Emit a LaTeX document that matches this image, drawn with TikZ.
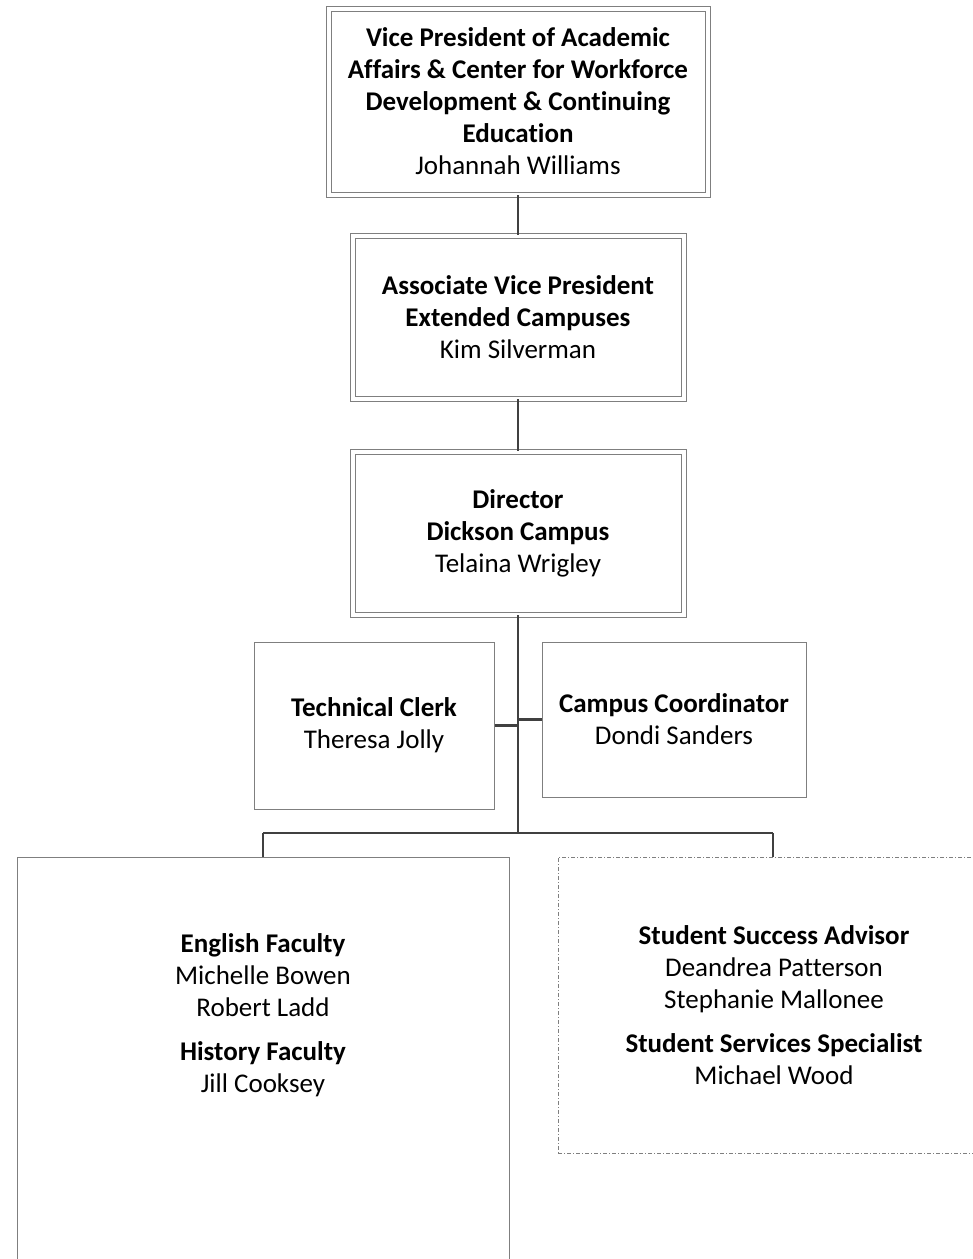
\documentclass[tikz,border=0pt]{standalone}
\usepackage{fontspec}
\setmainfont{Carlito}[Ligatures={CommonOff}]
\usepackage{tikz}
\usetikzlibrary{positioning}
\definecolor{orgline}{HTML}{404040}
\definecolor{orgedge}{HTML}{7F7F7F}

\begin{document}
\begin{tikzpicture}[
  x=1pt, y=-1pt,
  every node/.style={font=\fontsize{27}{32}\selectfont, align=center, inner sep=0pt},
  lead/.style={rectangle, draw=orgedge, line width=1pt, double=white,
               double distance=4pt},
  staff/.style={rectangle, draw=orgedge, line width=1pt},
  pool/.style={rectangle, draw=orgedge, line width=0.9pt,
               dash pattern=on 4pt off 2pt on 1pt off 2pt},
  link/.style={draw=orgline, line width=2.5pt},
]
  \useasboundingbox (0,0) rectangle (973,1259);
  \clip (0,0) rectangle (973,1259);

  \node[lead, minimum width=379pt, minimum height=186pt] (vpaa) at (518,101.5)
    {\textbf{Vice President of Academic}\\ \textbf{Affairs \& Center for Workforce}\\
     \textbf{Development \& Continuing}\\ \textbf{Education}\\ Johannah Williams};
  \node[lead, minimum width=331pt, minimum height=163pt] (avp) at (518,317)
    {\textbf{Associate Vice President}\\ \textbf{Extended Campuses}\\ Kim Silverman};
  \node[lead, minimum width=331pt, minimum height=163pt] (dir) at (518,533)
    {\textbf{Director}\\ \textbf{Dickson Campus}\\ Telaina Wrigley};

  \node[staff, minimum width=240pt, minimum height=167pt] (clerk) at (374,725.5)
    {\textbf{Technical Clerk}\\ Theresa Jolly};
  \node[staff, minimum width=264pt, minimum height=155pt] (coord) at (674,719.5)
    {\textbf{Campus Coordinator}\\ Dondi Sanders};

  \node[staff, minimum width=492pt, minimum height=408pt] (faculty) at (263,1061) {};
  \node (facultytext) at (263,1015)
    {\textbf{English Faculty}\\ Michelle Bowen\\ Robert Ladd\\[12pt]
     \textbf{History Faculty}\\ Jill Cooksey};
  \node[pool, minimum width=432pt, minimum height=296pt] (success) at (774,1005)
    {\textbf{Student Success Advisor}\\ Deandrea Patterson\\ Stephanie Mallonee\\[12pt]
     \textbf{Student Services Specialist}\\ Michael Wood};

  % spine and bus
  \coordinate (bus) at (518,833);
  \coordinate (busleft) at (263,833);
  \coordinate (busright) at (773,833);

  \draw[link] (vpaa.south) -- (avp.north);
  \draw[link] (avp.south) -- (dir.north);
  \draw[link] (dir.south) -- (bus);
  \draw[link] (clerk.east) -- (clerk.east -| bus);
  \draw[link] (coord.west) -- (coord.west -| bus);
  \draw[link] (busleft) -- (busright);
  \draw[link] (busleft) -- (faculty.north);
  \draw[link] (busright) -- (busright |- success.north);
\end{tikzpicture}
\end{document}
